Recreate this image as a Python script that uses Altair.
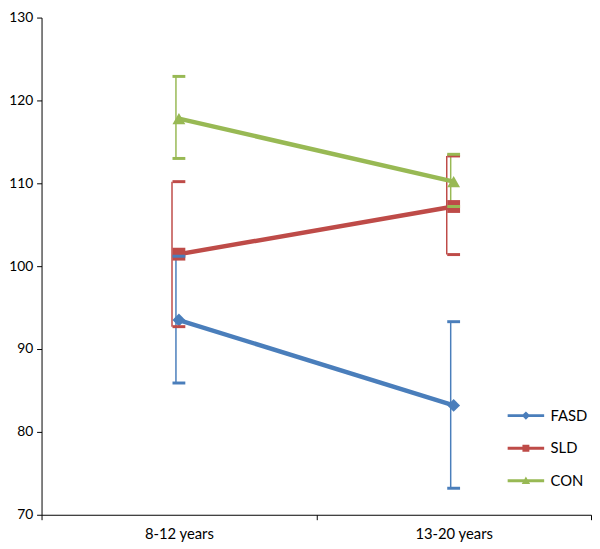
import altair as alt
import pandas as pd

series = ["FASD", "SLD", "CON"]
ages = ["8-12 years", "13-20 years"]
fasd_mean = [93.5, 83.2]
sld_mean = [101.45, 107.2]
con_mean = [117.8, 110.2]
fasd_low = [85.9, 73.2]
sld_low = [92.7, 101.4]
con_low = [113.0, 107.2]
fasd_high = [101.2, 93.3]
sld_high = [110.2, 113.3]
con_high = [122.9, 113.5]
colors = ["#4A7EBB", "#BE4B48", "#98B954"]
marker_shapes = ["diamond", "square", "triangle-up"]
# legend symbols: line segment + marker
legend_paths = [
    "M-3.7,-0.3H3.7V0.3H-3.7Z M0,-0.85L0.85,0L0,0.85L-0.85,0Z",
    "M-3.7,-0.3H3.7V0.3H-3.7Z M-0.7,-0.7H0.7V0.7H-0.7Z",
    "M-3.7,-0.3H3.7V0.3H-3.7Z M0,-0.85L0.85,0.65L-0.85,0.65Z",
]
rule_offsets = [-3, -7, -3]

means = [fasd_mean, sld_mean, con_mean]
lows = [fasd_low, sld_low, con_low]
highs = [fasd_high, sld_high, con_high]

rows = []
for s, m, lo, hi in zip(series, means, lows, highs):
    for i, a in enumerate(ages):
        rows.append({"series": s, "age": a, "mean": m[i], "low": lo[i], "high": hi[i]})
df = pd.DataFrame(rows)

FONT = "Lato"

x_enc = alt.X(
    "age:N",
    sort=ages,
    scale=alt.Scale(type="band", domain=ages, paddingInner=0, paddingOuter=0),
    axis=alt.Axis(
        title=None, labelAngle=0, tickBand="extent", tickSize=5, tickColor="black",
        domainColor="black", labelFont=FONT, labelFontSize=15, labelColor="black",
        labelPadding=7,
    ),
)
y_scale = alt.Scale(domain=[70, 130], nice=False, zero=False)
y_enc = alt.Y(
    "mean:Q",
    scale=y_scale,
    axis=alt.Axis(
        title=None, values=[70, 80, 90, 100, 110, 120, 130], grid=False, tickSize=5,
        tickColor="black", domainColor="black", labelFont=FONT, labelFontSize=14,
        labelColor="black", labelPadding=4,
    ),
)

base = alt.Chart(df)

rules, lines, markers, caps = [], [], [], []
for s, col, off, shp in zip(series, colors, rule_offsets, marker_shapes):
    sub = base.transform_filter(alt.datum.series == s)
    rules.append(
        sub.mark_rule(strokeWidth=1.5, xOffset=off, color=col)
        .encode(x=x_enc, y=alt.Y("low:Q", scale=y_scale), y2="high:Q")
    )
    lines.append(
        sub.mark_line(strokeWidth=4.5, color=col).encode(x=x_enc, y=y_enc)
    )
    markers.append(
        sub.mark_point(shape=shp, filled=True, size=169, opacity=1, color=col)
        .encode(x=x_enc, y=y_enc)
    )
    for fld in ["low", "high"]:
        caps.append(
            sub.mark_tick(orient="horizontal", size=13, thickness=3, color=col, opacity=1)
            .encode(x=x_enc, y=alt.Y(f"{fld}:Q", scale=y_scale))
        )

leg = alt.Legend(
    title=None, orient="none", legendX=483.5, legendY=396, padding=0,
    labelFont=FONT, labelFontSize=15, labelColor="black", symbolSize=100,
    labelOffset=17.5, rowPadding=17, symbolStrokeWidth=0, symbolOpacity=1,
)
legend_layer = (
    base.mark_point(filled=True, opacity=0)
    .encode(
        x=x_enc,
        y=y_enc,
        color=alt.Color("series:N", scale=alt.Scale(domain=series, range=colors), legend=leg),
        shape=alt.Shape("series:N", scale=alt.Scale(domain=series, range=legend_paths), legend=leg),
    )
)

chart = (
    alt.layer(*rules, *lines, *markers, *caps, legend_layer)
    .properties(
        width=557, height=504,
        autosize=alt.AutoSizeParams(type="none"),
        padding={"left": 34, "top": 6, "right": 1, "bottom": 31},
        background="white",
    )
    .configure_view(stroke=None)
)

chart.save("out.html", embed_options={"renderer": "svg", "actions": False})
